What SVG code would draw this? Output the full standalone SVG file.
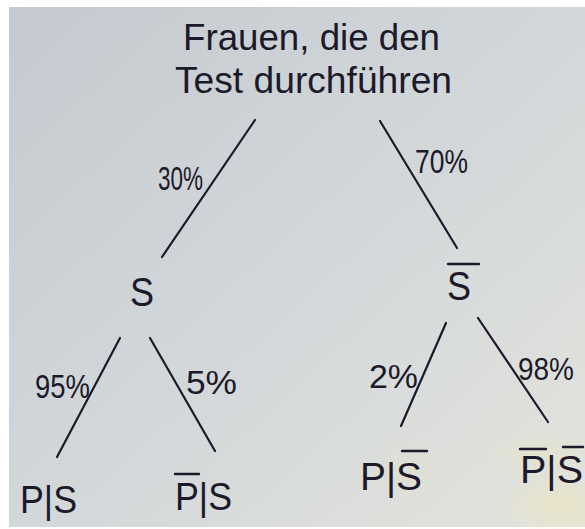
<svg xmlns="http://www.w3.org/2000/svg" width="585" height="529" viewBox="0 0 585 529">
  <style>
    .ink { fill: #1c1a2a; font-family: "Liberation Sans", Arial, sans-serif; }
    .title { font-size: 36px; }
    .pct { font-size: 34px; }
    .node { font-size: 40px; }
    .leaf { font-size: 38px; }
    .edge { stroke: #1c1a2a; stroke-width: 2.2; stroke-linecap: round; fill: none; }
    .bar { stroke: #1c1a2a; stroke-width: 2.4; stroke-linecap: round; }
  </style>
  <defs>
    <linearGradient id="paper" x1="0" y1="0" x2="1" y2="1">
      <stop offset="0" stop-color="#c4cacf"/>
      <stop offset="0.5" stop-color="#d2d7da"/>
      <stop offset="1" stop-color="#e3e4dc"/>
    </linearGradient>
    <radialGradient id="glow" cx="0.5" cy="0.5" r="0.5">
      <stop offset="0" stop-color="#f1e6ad" stop-opacity="0.45"/>
      <stop offset="1" stop-color="#f1e6ad" stop-opacity="0"/>
    </radialGradient>
  </defs>
  <rect x="0" y="0" width="585" height="529" fill="#ffffff"/>
  <rect x="9" y="7" width="576" height="520" fill="url(#paper)"/>
  <ellipse cx="560" cy="505" rx="60" ry="35" fill="url(#glow)"/>
  <ellipse cx="535" cy="455" rx="55" ry="25" fill="url(#glow)" opacity="0.6"/>
  <ellipse cx="405" cy="470" rx="35" ry="30" fill="url(#glow)" opacity="0.5"/>

  <g id="connectors">
    <line class="edge" x1="255" y1="120" x2="162" y2="257"/>
    <line class="edge" x1="380" y1="121" x2="457" y2="248"/>
    <line class="edge" x1="120" y1="338" x2="57" y2="457"/>
    <line class="edge" x1="150" y1="338" x2="215" y2="451"/>
    <line class="edge" x1="446" y1="323" x2="401" y2="426"/>
    <line class="edge" x1="478" y1="318" x2="548" y2="422"/>
  </g>

  <g id="edge-labels">
    <text class="ink pct" x="158" y="190" textLength="45" lengthAdjust="spacingAndGlyphs">30%</text>
    <text class="ink pct" x="415" y="173" textLength="53" lengthAdjust="spacingAndGlyphs">70%</text>
    <text class="ink pct" x="35" y="398" textLength="55" lengthAdjust="spacingAndGlyphs">95%</text>
    <text class="ink pct" x="186" y="394" textLength="51" lengthAdjust="spacingAndGlyphs">5%</text>
    <text class="ink pct" x="369" y="388" textLength="49" lengthAdjust="spacingAndGlyphs">2%</text>
    <text class="ink pct" x="518" y="380" style="font-size:32px" textLength="56" lengthAdjust="spacingAndGlyphs">98%</text>
  </g>

  <g id="root">
    <text class="ink title" x="183" y="50" textLength="257" lengthAdjust="spacingAndGlyphs">Frauen, die den</text>
    <text class="ink title" x="175" y="93" textLength="277" lengthAdjust="spacingAndGlyphs">Test durchführen</text>
  </g>

  <g id="node-S">
    <text class="ink node" x="130" y="306" textLength="24" lengthAdjust="spacingAndGlyphs">S</text>
  </g>

  <g id="node-Sbar">
    <line class="bar" x1="448" y1="264" x2="479" y2="264"/>
    <text class="ink node" x="447" y="300" textLength="24" lengthAdjust="spacingAndGlyphs">S</text>
  </g>

  <g id="leaf-P-S">
    <text class="ink leaf" x="20" y="513" textLength="57" lengthAdjust="spacingAndGlyphs">P|S</text>
  </g>

  <g id="leaf-notP-S">
    <line class="bar" x1="175" y1="474" x2="199" y2="474"/>
    <text class="ink leaf" x="175" y="510" textLength="57" lengthAdjust="spacingAndGlyphs">P|S</text>
  </g>

  <g id="leaf-P-notS">
    <line class="bar" x1="402" y1="451" x2="427" y2="451"/>
    <text class="ink leaf" x="360" y="490" textLength="62" lengthAdjust="spacingAndGlyphs">P|S</text>
  </g>

  <g id="leaf-notP-notS">
    <line class="bar" x1="520" y1="449" x2="546" y2="449"/>
    <line class="bar" x1="563" y1="447" x2="583" y2="447"/>
    <text class="ink leaf" x="520" y="483" textLength="63" lengthAdjust="spacingAndGlyphs">P|S</text>
  </g>
</svg>
